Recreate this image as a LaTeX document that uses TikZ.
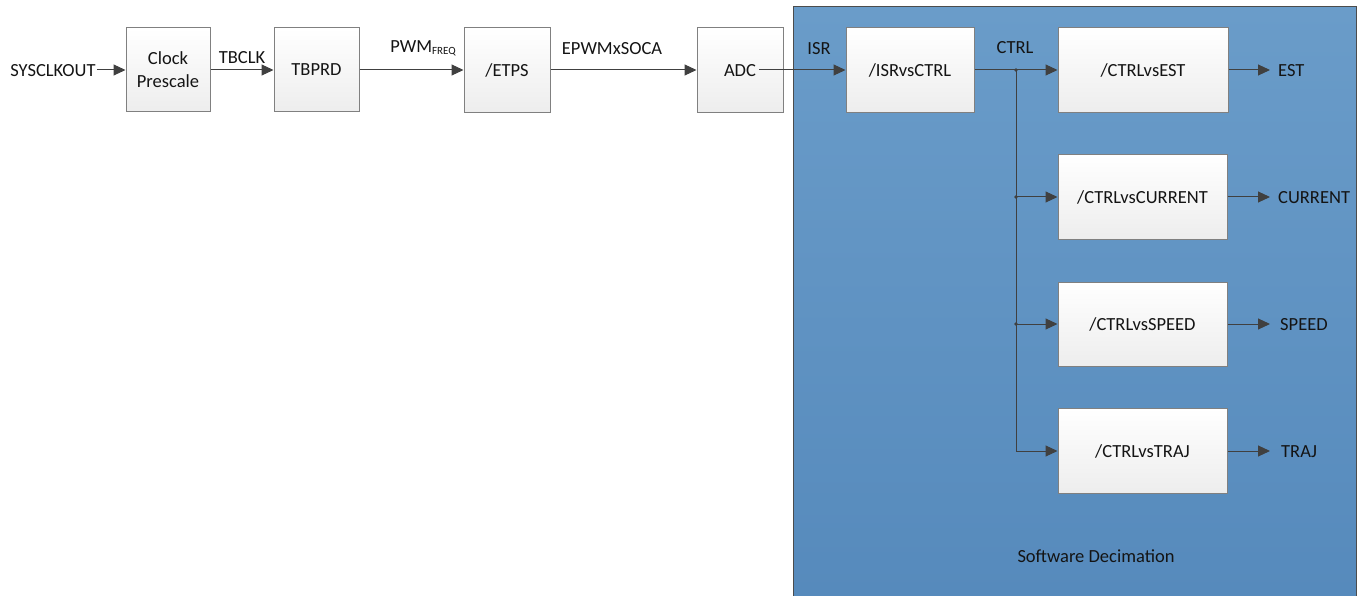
\documentclass[tikz,border=0pt]{standalone}
\usepackage{fontspec}
\setmainfont{Carlito}
\usetikzlibrary{arrows.meta}
\definecolor{boxedge}{RGB}{128,128,128}
\definecolor{lineclr}{RGB}{64,64,64}
\definecolor{bluetop}{RGB}{106,156,201}
\definecolor{bluebot}{RGB}{86,138,188}
\definecolor{txt}{RGB}{20,20,20}
\begin{document}
\begin{tikzpicture}[x=1pt,y=-1pt,
  font=\fontsize{18.5}{22}\selectfont, text=txt,
  blk/.style 2 args={draw=boxedge, line width=1pt, top color=white, bottom color=black!7,
    minimum width=#1, minimum height=#2, inner sep=0pt, align=center},
  lbl/.style={inner sep=0pt},
  conn/.style={draw=lineclr, line width=1pt, -{Triangle[length=12pt,width=11pt]}},
  wire/.style={draw=lineclr, line width=1pt}]
\useasboundingbox (0,0) rectangle (1357,596);
% software decimation region
\fill[top color=bluetop, bottom color=bluebot] (793,7) rectangle (1356,596);
\draw[draw=black!70, line width=1pt] (793,596) -- (793,7) -- (1356,7) -- (1356,596);
\node[lbl] (sd) at (1096,556) {Software Decimation};

% blocks
\node[blk={84pt}{84pt}] (clk) at (168,70) {Clock\\[1pt]Prescale};
\node[blk={85pt}{84pt}] (tbprd) at (316.5,70) {TBPRD};
\node[blk={86pt}{85pt}] (etps) at (507,70) {/ETPS};
\node[blk={86pt}{85pt}] (adc) at (740,70) {};
\node[lbl] (adct) at (740,71) {ADC};
\node[blk={128pt}{85pt}] (isr) at (910,70) {/ISRvsCTRL};
\node[blk={170pt}{85pt}] (est) at (1143,70) {/CTRLvsEST};
\node[blk={169pt}{84pt}] (cur) at (1142.5,197) {/CTRLvsCURRENT};
\node[blk={169pt}{84pt}] (spd) at (1142.5,324) {/CTRLvsSPEED};
\node[blk={169pt}{85pt}] (trj) at (1142.5,451) {/CTRLvsTRAJ};

% labels
\node[lbl] (sys) at (53,71) {SYSCLKOUT};
\node[lbl] (tbclk) at (242,58) {TBCLK};
\node[lbl] (pwm) at (423,48) {PWM\raisebox{-2pt}{\fontsize{11}{11}\selectfont FREQ}};
\node[lbl] (soca) at (612,49) {EPWMxSOCA};
\node[lbl] (isrl) at (819,49) {ISR};
\node[lbl] (ctrl) at (1015,48) {CTRL};
\node[lbl, anchor=west] (estl) at (1278,71) {EST};
\node[lbl, anchor=west] (curl) at (1278,198) {CURRENT};
\node[lbl, anchor=west] (spdl) at (1280,325) {SPEED};
\node[lbl, anchor=west] (trjl) at (1281,452) {TRAJ};

% connectors
\draw[conn] ([xshift=1pt]sys.east |- clk.west) -- (clk.west);
\draw[conn] (clk.east) -- (tbprd.west);
\draw[conn] (tbprd.east) -- (etps.west);
\draw[conn] (etps.east) -- (adc.west);
\draw[conn] ([xshift=3pt]adct.east |- isr.west) -- (isr.west);
\coordinate (j1) at (1016,70);
\coordinate (j2) at (1016,197);
\coordinate (j3) at (1016,324);
\coordinate (j4) at (1016,451);
\draw[wire] (isr.east) -- (j1);
\draw[wire] (j1) -- (j4);
\draw[conn] (j1) -- (est.west);
\draw[conn] (j2) -- (cur.west);
\draw[conn] (j3) -- (spd.west);
\draw[conn] (j4) -- (trj.west);
\fill[lineclr] (j1) circle (1.8pt) (j2) circle (1.8pt) (j3) circle (1.8pt);
\draw[conn] (est.east) -- ([xshift=-8pt]estl.west |- est.east);
\draw[conn] (cur.east) -- ([xshift=-8pt]curl.west |- cur.east);
\draw[conn] (spd.east) -- ([xshift=-10pt]spdl.west |- spd.east);
\draw[conn] (trj.east) -- ([xshift=-11pt]trjl.west |- trj.east);
\end{tikzpicture}
\end{document}
